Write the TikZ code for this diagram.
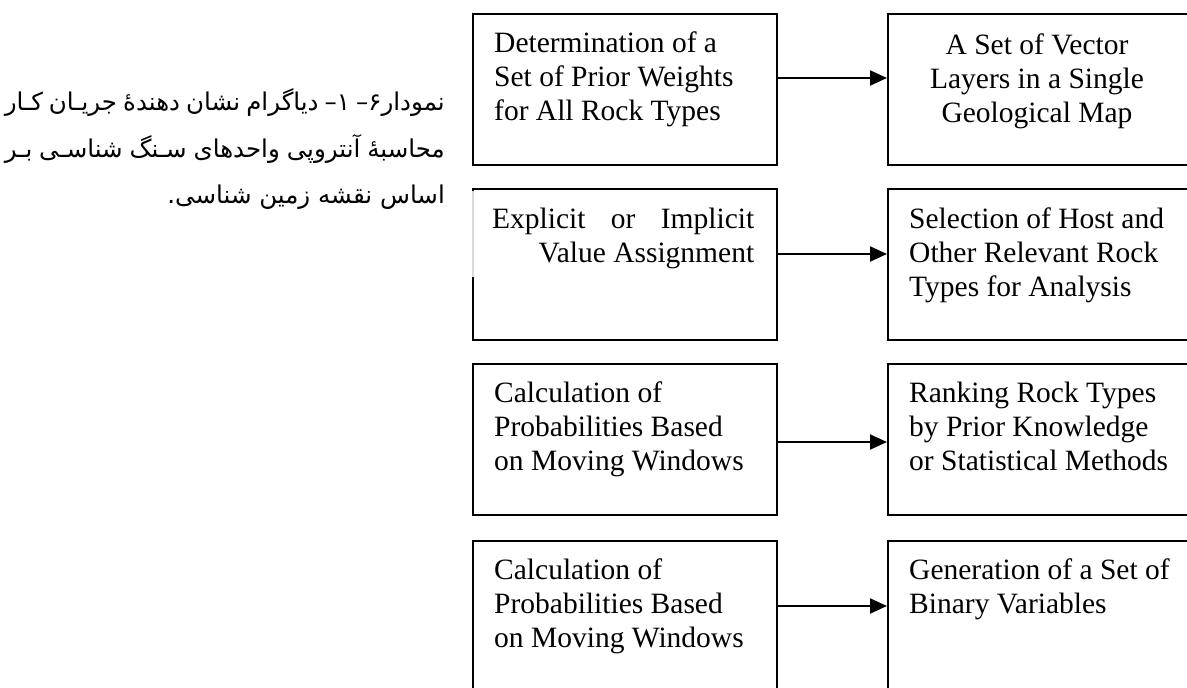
\documentclass[tikz,border=0pt]{standalone}
\usepackage{fontspec}
\setmainfont{Liberation Serif}
\newfontfamily\farsifont[Script=Arabic]{DejaVu Sans}
\TeXXeTstate=1
\usetikzlibrary{arrows.meta}

\begin{document}
\begin{tikzpicture}[x=1pt,y=-1pt,
    box/.style={draw,line width=2pt,minimum width=304pt,minimum height=151pt,
      inner sep=0pt,anchor=north west},
    txt/.style={anchor=north west,inner sep=0pt,align=left,
      font=\fontsize{29.5}{34}\selectfont},
    flow/.style={-{Triangle[length=17pt,width=15pt]},line width=2pt},
    captext/.style={anchor=base east,inner sep=0pt,
      font=\farsifont\fontsize{24.5}{30}\selectfont}]
    \useasboundingbox (0,0) rectangle (1187,688);
    \clip (0,0) rectangle (1187,688);

    %boxes and arrows
    \foreach \i/\y/\a in {1/13/11.5,2/188/10.5,3/363/-2.5,4/540/10.5} {
      \node[box] (l\i) at (472,\y) {};
      \node[box] (r\i) at (887,\y) {};
      \draw[flow] ([yshift=\a]l\i.east) -- ([yshift=\a]r\i.west);
    }
    % caption box hides part of the left edge
    \fill[white,opacity=0.85] (468,191) rectangle (476,277);

    %texts
    \node[txt] (t1) at ([xshift=22pt,yshift=-19pt]l1.north west)
      {Determination of a\\Set of Prior Weights\\for All Rock Types};
    \node[txt,anchor=north,align=center] (u1) at ([xshift=150pt,yshift=-21pt]r1.north west)
      {A Set of Vector\\Layers in a Single\\Geological Map};
    \node[txt,align=right] (t2) at ([xshift=20pt,yshift=-20pt]l2.north west)
      {\makebox[262pt][s]{Explicit or Implicit}\\Value Assignment};
    \node[txt] (u2) at ([xshift=22pt,yshift=-20pt]r2.north west)
      {Selection of Host and\\Other Relevant Rock\\Types for Analysis};
    \node[txt] (t3) at ([xshift=22pt,yshift=-19pt]l3.north west)
      {Calculation of\\Probabilities Based\\on Moving Windows};
    \node[txt] (u3) at ([xshift=22pt,yshift=-19pt]r3.north west)
      {Ranking Rock Types\\by Prior Knowledge\\or Statistical Methods};
    \node[txt] (t4) at ([xshift=22pt,yshift=-19pt]l4.north west)
      {Calculation of\\Probabilities Based\\on Moving Windows};
    \node[txt] (u4) at ([xshift=22pt,yshift=-19pt]r4.north west)
      {Generation of a Set of\\Binary Variables};

    %caption
    \node[captext] (cap1) at (445,110)
      {\makebox[440pt][s]{\beginR نمودار۶– ۱– دیاگرام نشان دهندهٔ جریـان کـار\endR}};
    \node[captext] (cap2) at (445,157)
      {\makebox[440pt][s]{\beginR محاسبهٔ آنتروپی واحدهای سـنگ شناسـی بـر\endR}};
    \node[captext] (cap3) at (445,203)
      {\beginR اساس نقشه زمین شناسی.\endR};
  \end{tikzpicture}
\end{document}
